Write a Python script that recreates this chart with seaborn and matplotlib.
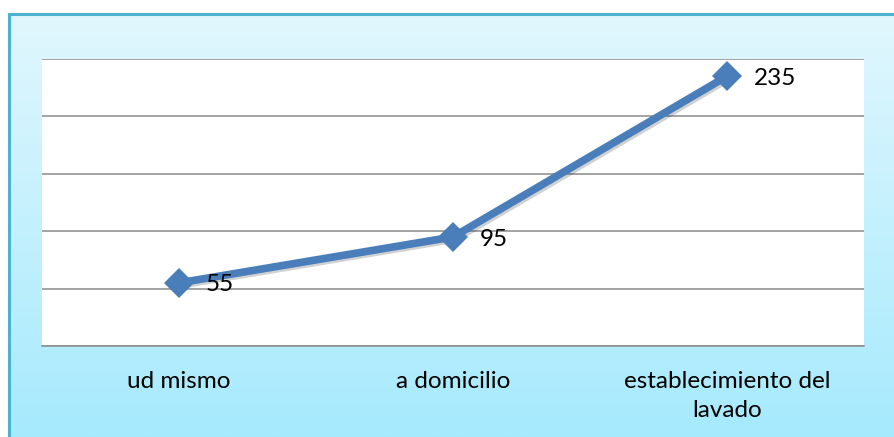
import numpy as np
import pandas as pd
import matplotlib.pyplot as plt
import matplotlib.patheffects as pe
from matplotlib.colors import LinearSegmentedColormap
import seaborn as sns

# chart data
categories = ['ud mismo', 'a domicilio', 'establecimiento del lavado']
tick_labels = ['ud mismo', 'a domicilio', 'establecimiento del\nlavado']
values = [55, 95, 235]

df = pd.DataFrame({'lugar': categories, 'valor': values})

sns.set_theme(style='white')
plt.rcParams['font.family'] = ['Lato', 'DejaVu Sans']

fig = plt.figure(figsize=(8.94, 4.37), dpi=100)
fig.patch.set_facecolor('white')

# light blue gradient frame behind the chart
bg = fig.add_axes([9 / 894, 0, 1 - 9 / 894, (437 - 14) / 437], zorder=0)
grad = np.linspace(0, 1, 256).reshape(-1, 1)
cmap = LinearSegmentedColormap.from_list('bg', ['#e1f7fe', '#a6eafd'])
bg.imshow(grad, aspect='auto', cmap=cmap, extent=[0, 1, 0, 1], origin='upper')
bg.set_xticks([])
bg.set_yticks([])
for side in ['right', 'bottom']:
    bg.spines[side].set_visible(False)
for side in ['left', 'top']:
    bg.spines[side].set_color('#4bb3cf')
    bg.spines[side].set_linewidth(2.2)

ax = fig.add_axes([42 / 894, (437 - 346) / 437, (864 - 42) / 894, (346 - 59) / 437], zorder=1)
ax.set_facecolor('white')

sns.lineplot(data=df, x='lugar', y='valor', ax=ax, color='#4a7ebb', linewidth=5.5,
             marker='D', markersize=15, markeredgewidth=0, sort=False,
             path_effects=[pe.SimpleLineShadow(offset=(1.5, -1.5), alpha=0.2), pe.Normal()])

for i, v in enumerate(values):
    ax.annotate(str(v), (i, v), xytext=(19, -1.5), textcoords='offset points',
                ha='left', va='center', fontsize=17.5, color='black')

ax.set_xlim(-0.5, 2.5)
ax.set_ylim(0, 250)
ax.set_yticks(np.arange(0, 251, 50))
ax.yaxis.grid(True, color='#8a8a8a', linewidth=1.1)
ax.set_yticklabels([])
ax.set_xticks(range(len(categories)))
ax.set_xticklabels(tick_labels, fontsize=17.5, color='black',
                   multialignment='center', linespacing=1.45)
ax.tick_params(axis='x', length=0, pad=18)
ax.tick_params(axis='y', length=0)
ax.set_xlabel('')
ax.set_ylabel('')
for side in ['left', 'right', 'top']:
    ax.spines[side].set_visible(False)
ax.spines['bottom'].set_color('#8a8a8a')
ax.spines['bottom'].set_linewidth(1.1)

fig.savefig('out.png', dpi=100)
